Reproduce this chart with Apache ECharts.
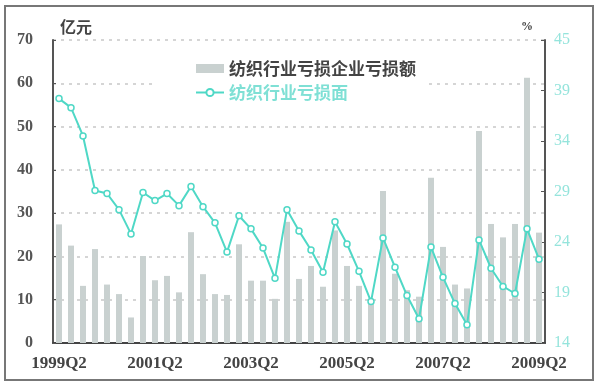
<!DOCTYPE html>
<html><head><meta charset="utf-8">
<script src="https://cdn.jsdelivr.net/npm/echarts@6/dist/echarts.min.js"></script>
<style>html,body{margin:0;padding:0;background:#fff}#c{width:600px;height:387px}</style>
</head><body><div id="c"></div>
<script>
const categories = (function(){const a=[];for(let y=1999;y<=2009;y++){for(let q=1;q<=4;q++){if((y===1999&&q<2)||(y===2009&&q>2))continue;a.push(y+'Q'+q);}}return a;})();
const lossAmount = [27.4,22.5,13.2,21.7,13.5,11.3,5.9,20.1,14.5,15.5,11.7,25.6,15.9,11.3,11.1,22.8,14.4,14.4,10.2,28,14.8,17.8,13.0,26,17.8,13.2,9.5,35.1,16.0,12.2,10.7,38.2,22.2,13.5,12.6,49.0,27.5,24.4,27.5,61.3,25.5];
const lossRatio = [38.2,37.3,34.5,29.1,28.8,27.2,24.8,28.9,28.1,28.8,27.6,29.5,27.5,25.9,23.0,26.6,25.3,23.4,20.4,27.2,25.1,23.2,21.0,26.0,23.8,21.1,18.1,24.4,21.5,18.7,16.4,23.5,20.5,17.9,15.8,24.2,21.4,19.6,18.9,25.3,22.3];
const leftTicks = {min:0,max:70,interval:10};
const rightTicks = {min:14,max:44,interval:5,topLabel:'45'};
const barName = '纺织行业亏损企业亏损额';
const lineName = '纺织行业亏损面';

const chart = echarts.init(document.getElementById('c'));
const serif = '"Liberation Serif","DejaVu Serif",serif';
const cjk = '"Noto Sans CJK SC","Noto Sans",sans-serif';
chart.setOption({
  animation:false,
  backgroundColor:'#fff',
  graphic:[{type:'rect',shape:{x:5,y:6,width:588,height:374},style:{fill:'none',stroke:'#777',lineWidth:2},z:100}],
  grid:{left:53,right:55,top:40,bottom:44},
  legend:{
    orient:'vertical',left:157,top:50,padding:[10,10,10,38],itemGap:7,
    backgroundColor:'#fff',itemWidth:28,itemHeight:9,
    data:[
      {name:barName,icon:'rect',textStyle:{color:'#444'}},
      {name:lineName,textStyle:{color:'#7fe0d5'}}
    ],
    textStyle:{fontFamily:cjk,fontSize:17,fontWeight:'bold'}
  },
  xAxis:{
    type:'category',data:categories,boundaryGap:true,
    axisLine:{lineStyle:{color:'#444',width:2}},
    axisTick:{interval:1,length:4,lineStyle:{color:'#444'}},
    axisLabel:{interval:7,margin:12,color:'#444',fontFamily:serif,fontWeight:'bold',fontSize:17},
    splitLine:{show:false}
  },
  yAxis:[
    {type:'value',min:leftTicks.min,max:leftTicks.max,interval:leftTicks.interval,
     name:'亿元',nameLocation:'end',nameGap:5,
     nameTextStyle:{color:'#444',fontFamily:cjk,fontSize:16,fontWeight:'bold',align:'left',padding:[0,0,0,7]},
     axisLine:{show:true,lineStyle:{color:'#555',width:2}},
     axisTick:{show:true,inside:true,length:3,lineStyle:{color:'#555'}},
     axisLabel:{margin:20,color:'#555',fontFamily:serif,fontWeight:'bold',fontSize:16},
     splitLine:{show:true,lineStyle:{color:'#c8c8c8',type:[3,5],width:1.5}}
    },
    {type:'value',min:rightTicks.min,max:rightTicks.max,interval:rightTicks.interval,
     name:'%',nameLocation:'end',nameGap:7,
     nameTextStyle:{color:'#444',fontFamily:serif,fontSize:12,fontWeight:'bold',align:'right',padding:[0,12,0,0]},
     axisLine:{show:true,lineStyle:{color:'#555',width:2}},
     axisTick:{show:true,inside:true,length:4,lineStyle:{color:'#555'}},
     axisLabel:{margin:9,color:'#95e4dc',fontFamily:serif,fontSize:16,
       formatter:function(v){return v===rightTicks.max?rightTicks.topLabel:String(v);}},
     splitLine:{show:false}
    }
  ],
  series:[
    {name:barName,type:'bar',yAxisIndex:0,data:lossAmount,barWidth:6,
     itemStyle:{color:'#c9d1d0'}},
    {name:lineName,type:'line',yAxisIndex:1,data:lossRatio,
     symbol:'circle',symbolSize:6,
     lineStyle:{color:'#4fd8c6',width:2},
     itemStyle:{color:'#fff',borderColor:'#4fd8c6',borderWidth:1.5}}
  ]
});
</script></body></html>
